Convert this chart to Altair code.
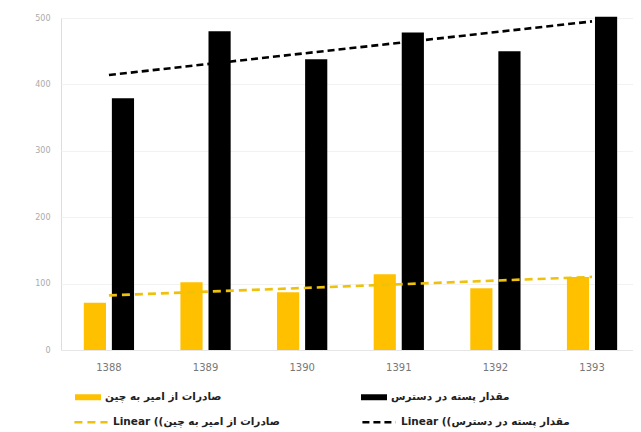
import altair as alt
import pandas as pd

years = ["1388", "1389", "1390", "1391", "1392", "1393"]
available = [379, 480, 438, 478, 450, 502]   # مقدار پسته در دسترس
exports = [71, 102, 87, 114, 93, 110]        # صادرات از امیر به چین

s_exp = "صادرات از امیر به چین"
s_av = "مقدار پسته در دسترس"
s_exp_lin = "Linear ((صادرات از امیر به چین"
s_av_lin = "Linear ((مقدار پسته در دسترس"

rows = []
for i, y in enumerate(years):
    rows.append({"year": y, "idx": i, "series": s_exp, "trend": s_exp_lin, "value": exports[i]})
    rows.append({"year": y, "idx": i, "series": s_av, "trend": s_av_lin, "value": available[i]})
df = pd.DataFrame(rows)

yellow = "#FFC000"
yellow_line = "#EEC20A"

label_style = dict(
    labelFont="DejaVu Sans",
    labelFontWeight="bold",
    labelFontSize=10.5,
    labelColor="#222222",
    labelLimit=300,
    title=None,
    orient="none",
    columns=2,
    direction="horizontal",
)

bar_legend = alt.Legend(
    legendX=14,
    legendY=366,
    columnPadding=139,
    symbolType="M-1,-0.23H1V0.23H-1Z",
    symbolSize=676,
    symbolStrokeWidth=0,
    **label_style,
)

line_legend = alt.Legend(
    legendX=12,
    legendY=386,
    columnPadding=77,
    symbolType="stroke",
    symbolSize=1100,
    symbolStrokeWidth=2.6,
    **label_style,
)

xenc = alt.X(
    "year:N",
    sort=years,
    scale=alt.Scale(domain=years, paddingInner=0.48, paddingOuter=0.2, align=0.59),
    axis=alt.Axis(
        title=None,
        labelAngle=0,
        ticks=False,
        domain=True,
        domainColor="#e6e6e6",
        labelColor="#777777",
        labelFontSize=10,
        labelFont="DejaVu Sans",
        labelPadding=12,
        grid=False,
    ),
)

yenc = alt.Y(
    "value:Q",
    scale=alt.Scale(domain=[0, 500], nice=False),
    axis=alt.Axis(
        title=None,
        values=[0, 100, 200, 300, 400, 500],
        ticks=False,
        domain=False,
        grid=True,
        gridColor="#f2f2f2",
        labelColor="#aaaaaa",
        labelFontSize=8,
        labelFont="DejaVu Sans",
        labelPadding=11,
        minExtent=53,
        maxExtent=53,
    ),
)

bars = alt.Chart(df).mark_bar().encode(
    x=xenc,
    xOffset=alt.XOffset("series:N", sort=[s_exp, s_av], scale=alt.Scale(domain=[s_exp, s_av], paddingInner=0.21)),
    y=yenc,
    color=alt.Color("series:N", scale=alt.Scale(domain=[s_exp, s_av], range=[yellow, "#000000"]), legend=bar_legend),
)

trend = (
    alt.Chart(df)
    .transform_regression("idx", "value", groupby=["trend"], method="linear")
    .transform_calculate(year="'' + (1388 + datum.idx)")
    .mark_line(strokeWidth=2.6)
    .encode(
        x=alt.X("year:N", sort=years),
        y=alt.Y("value:Q"),
        stroke=alt.Stroke("trend:N", scale=alt.Scale(domain=[s_exp_lin, s_av_lin], range=[yellow_line, "#000000"]), legend=line_legend),
        strokeDash=alt.StrokeDash("trend:N", scale=alt.Scale(domain=[s_exp_lin, s_av_lin], range=[[8, 5], [7, 4]]), legend=line_legend),
    )
)

chart = (
    alt.layer(bars, trend)
    .resolve_scale(color="independent")
    .properties(width=572, height=332, padding={"left": 0, "top": 6, "right": 0, "bottom": 0})
    .configure_view(stroke=None)
    .configure(background="white")
)

chart.save("out.html", embed_options={"renderer": "svg", "actions": False})
